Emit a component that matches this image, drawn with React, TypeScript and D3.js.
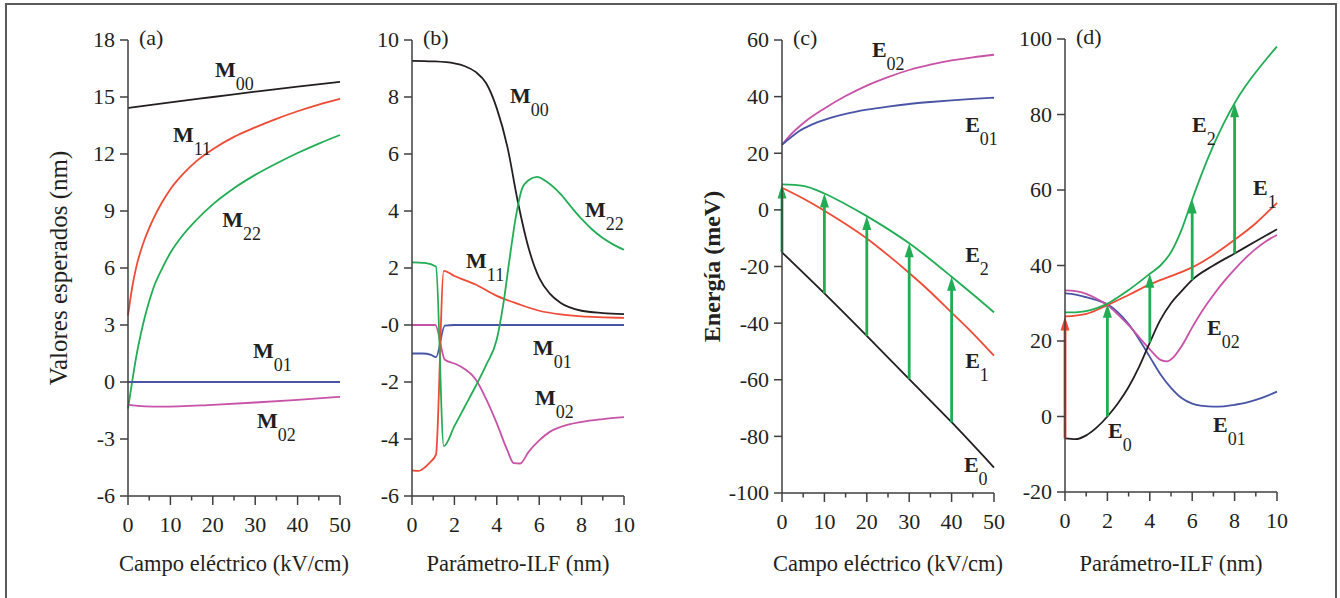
import React from 'react'
import * as d3 from 'd3'

// ---- data ----
// panel (a): x = campo eléctrico (kV/cm)
const aM00 = [[0, 14.42], [10, 14.72], [20, 15.0], [30, 15.28], [40, 15.55], [50, 15.8]]
const aM11 = [[0, 3.5], [1, 5.0], [2, 6.1], [3, 6.9], [4, 7.55], [5, 8.1], [6, 8.6], [8, 9.45], [10, 10.15], [13, 10.95], [16, 11.6], [20, 12.25], [25, 12.9], [30, 13.4], [35, 13.85], [40, 14.25], [45, 14.6], [50, 14.9]]
const aM22 = [[0, -1.4], [1, 0.05], [2, 1.4], [3, 2.5], [4, 3.45], [5, 4.25], [6, 4.95], [8, 5.95], [10, 6.8], [13, 7.75], [16, 8.5], [20, 9.35], [25, 10.2], [30, 10.9], [35, 11.5], [40, 12.05], [45, 12.55], [50, 13.0]]
const aM01 = [[0, 0], [50, 0]]
const aM02 = [[0, -1.2], [4, -1.28], [8, -1.3], [20, -1.2], [30, -1.08], [40, -0.94], [50, -0.78]]

// panel (b): x = parámetro ILF (nm)
const bM00 = [[0, 9.27], [1, 9.25], [2, 9.18], [2.5, 9.08], [3, 8.88], [3.5, 8.48], [4, 7.6], [4.5, 6.25], [5, 4.3], [5.5, 2.7], [6, 1.65], [6.5, 1.1], [7, 0.78], [8, 0.5], [9, 0.42], [10, 0.38]]
const bM11 = [[0, -5.1], [0.3, -5.12], [0.6, -5.0], [0.85, -4.82], [1.13, -4.55], [1.5, 1.9], [2, 1.72], [3, 1.42], [4, 1.02], [5, 0.74], [6, 0.5], [7, 0.37], [8, 0.3], [9, 0.27], [10, 0.25]]
const bM22 = [[0, 2.2], [0.6, 2.18], [1.13, 2.05], [1.5, -4.25], [2, -3.55], [2.5, -2.85], [3, -2.15], [3.5, -1.4], [4, -0.5], [4.3, 0.7], [4.6, 2.3], [4.9, 3.8], [5.2, 4.8], [5.5, 5.08], [5.9, 5.2], [6.3, 5.05], [7, 4.6], [7.5, 4.15], [8, 3.72], [8.5, 3.35], [9, 3.05], [9.5, 2.82], [10, 2.64]]
const bM01 = [[0, -1.0], [0.5, -1.0], [0.9, -1.05], [1.13, -1.13], [1.55, -0.02], [2, 0], [10, 0]]
const bM02 = [[0, 0], [1.1, 0], [1.55, -1.22], [2, -1.35], [2.5, -1.55], [3, -1.9], [3.5, -2.6], [4, -3.45], [4.5, -4.4], [4.8, -4.85], [5.1, -4.86], [5.5, -4.45], [6, -4.05], [6.5, -3.75], [7, -3.58], [8, -3.4], [9, -3.3], [10, -3.23]]

// panel (c): energías vs campo eléctrico
const cE02 = [[0, 23], [2, 26.5], [5, 30.6], [10, 35.8], [15, 40.2], [20, 43.9], [25, 46.9], [30, 49.4], [35, 51.3], [40, 52.8], [45, 53.9], [50, 54.8]]
const cE01 = [[0, 23], [2, 25.5], [4, 27.8], [7, 30.1], [10, 31.8], [15, 33.9], [20, 35.4], [25, 36.5], [30, 37.4], [35, 38.1], [40, 38.7], [45, 39.2], [50, 39.6]]
const cE2 = [[0, 9], [5, 8.5], [10, 5.8], [15, 2.0], [20, -2.2], [25, -6.8], [30, -11.8], [35, -17.5], [40, -23.6], [45, -29.8], [50, -36.2]]
const cE1 = [[0, 7.8], [5, 4.0], [10, -0.3], [15, -5.0], [20, -10.1], [25, -16.0], [30, -22.3], [35, -29.0], [40, -36.3], [45, -43.6], [50, -51.5]]
const cE0 = [[0, -15], [10, -29.5], [20, -44.5], [30, -59.8], [40, -75], [50, -91]]
const cArrows = [[0, -15, 9], [10, -29.5, 5.8], [20, -44.5, -2.2], [30, -59.8, -11.8], [40, -75, -23.6]]

// panel (d): energías vs parámetro ILF
const dE2 = [[0, 27.6], [0.5, 27.6], [1, 27.9], [1.5, 28.7], [2, 29.9], [2.5, 31.6], [3, 33.5], [3.5, 35.6], [4, 37.8], [4.5, 40.0], [5, 43.5], [5.5, 49.5], [6, 57.5], [6.5, 65.0], [7, 71.8], [7.5, 77.8], [8, 83], [8.5, 87.4], [9, 91.2], [9.5, 94.7], [10, 98]]
const dE1 = [[0, 26.5], [1, 27.2], [2, 29.5], [3, 32.2], [4, 35.0], [5, 37.2], [6, 39.5], [7, 42.8], [8, 46.8], [9, 51.2], [10, 56.6]]
const dE0 = [[0, -5.8], [0.5, -6.0], [1, -5.0], [1.5, -2.9], [2, 0], [2.5, 3.5], [3, 7.8], [3.5, 13.2], [4, 19.6], [4.5, 25.6], [5, 30.0], [5.5, 33.2], [6, 36.2], [7, 40.0], [8, 43.2], [9, 46.4], [10, 49.6]]
const dE02 = [[0, 33.4], [0.5, 33.2], [1, 32.5], [1.5, 31.2], [2, 29.5], [2.5, 27], [3, 24.2], [3.5, 21], [4, 17.8], [4.5, 15.0], [4.8, 14.6], [5.1, 15.6], [5.5, 18.6], [6, 23.6], [6.5, 28.2], [7, 32.2], [7.5, 35.8], [8, 39.0], [8.5, 41.9], [9, 44.4], [9.5, 46.5], [10, 48.1]]
const dE01 = [[0, 32.6], [0.5, 32.3], [1, 31.6], [1.5, 30.8], [2, 29.7], [2.5, 27.6], [3, 24.5], [3.5, 20.4], [4, 15.8], [4.5, 11.2], [5, 7.6], [5.5, 4.9], [6, 3.4], [6.5, 2.8], [7, 2.6], [7.5, 2.7], [8, 3.1], [8.5, 3.6], [9, 4.4], [9.5, 5.4], [10, 6.6]]
const dRedArrows = [[0, -5.8, 26.5]]
const dArrows = [[2, 0, 29.9], [4, 19.6, 37.8], [6, 36.2, 57.5], [8, 43.2, 83]]

// tick labels
const aYTicks = [18, 15, 12, 9, 6, 3, 0, -3, -6]
const bYTicks = [10, 8, 6, 4, 2, 0, -2, -4, -6]
const bYLabels = ['10', '8', '6', '4', '2', '-0', '-2', '-4', '-6']
const cYTicks = [60, 40, 20, 0, -20, -40, -60, -80, -100]
const dYTicks = [100, 80, 60, 40, 20, 0, -20]
const fieldTicks = [0, 10, 20, 30, 40, 50]
const ilfTicks = [0, 2, 4, 6, 8, 10]

const BLACK = '#231f20', RED = '#ef4a35', GREEN = '#22ad55', BLUE = '#4a54a6', MAGENTA = '#c852a8'
const AXIS = '#3f3f3f'
const FONT = '"Liberation Serif", "Times New Roman", serif'

type Curve = { d: number[][]; color: string }
type Label = { base: string; sub: string; x: number; y: number }
type PanelProps = {
  left: number; bottom: number; top: number
  xDomain: [number, number]; yDomain: [number, number]
  xTicks: number[]; xMinor: number[]
  yTicks: number[]; yLabels?: string[]
  tag: string; curves: Curve[]; labels: Label[]
  arrows?: { d: number[][]; color: string }[]
  xTitle: string; yTitle?: string; yTitleX?: number; yTitleBold?: boolean; yTitleSize?: number
}

const Panel = (p: PanelProps) => {
  const w = 212
  const x = d3.scaleLinear().domain(p.xDomain).range([p.left, p.left + w])
  const y = d3.scaleLinear().domain(p.yDomain).range([p.bottom, p.top])
  const line = d3.line<number[]>().x(d => x(d[0])).y(d => y(d[1])).curve(d3.curveMonotoneX)
  const mid = (p.top + p.bottom) / 2
  return (
    <g fontFamily={FONT} fill="#231f20">
      {p.curves.map((c, i) => (
        <path key={i} d={line(c.d) || ''} fill="none" stroke={c.color} strokeWidth={1.8} />
      ))}
      {p.arrows && p.arrows.map((a, j) => a.d.map((r, i) => {
        const ax = x(r[0]), y0 = y(r[1]), y1 = y(r[2])
        return (
          <g key={j + '-' + i}>
            <line x1={ax} x2={ax} y1={y0} y2={y1 + 10} stroke={a.color} strokeWidth={2.8} />
            <path d={`M${ax - 4.5},${y1 + 14} L${ax},${y1} L${ax + 4.5},${y1 + 14} Z`} fill={a.color} />
          </g>
        )
      }))}
      {/* axes */}
      <line x1={p.left} x2={p.left} y1={p.top} y2={p.bottom} stroke={AXIS} strokeWidth={1.5} />
      <line x1={p.left} x2={p.left + w} y1={p.bottom} y2={p.bottom} stroke={AXIS} strokeWidth={1.5} />
      {p.yTicks.map((t, i) => (
        <g key={'y' + i}>
          <line x1={p.left - 8} x2={p.left} y1={y(t)} y2={y(t)} stroke={AXIS} strokeWidth={1.5} />
          <text x={p.left - 13} y={y(t)} dy="0.34em" textAnchor="end" fontSize={22}>
            {p.yLabels ? p.yLabels[i] : String(t)}
          </text>
        </g>
      ))}
      {p.xTicks.map((t, i) => (
        <g key={'x' + i}>
          <line x1={x(t)} x2={x(t)} y1={p.bottom} y2={p.bottom + 9} stroke={AXIS} strokeWidth={1.5} />
          <text x={x(t)} y={p.bottom + 36} textAnchor="middle" fontSize={22}>{t}</text>
        </g>
      ))}
      {p.xMinor.map((t, i) => (
        <line key={'m' + i} x1={x(t)} x2={x(t)} y1={p.bottom} y2={p.bottom + 4.5} stroke={AXIS} strokeWidth={1.5} />
      ))}
      <text x={p.left + 11} y={p.top + 5} fontSize={22}>{p.tag}</text>
      {p.labels.map((l, i) => (
        <text key={'l' + i} x={x(l.x)} y={y(l.y)} fontSize={22}>
          <tspan fontWeight="bold">{l.base}</tspan>
          <tspan dy={13} fontSize={18}>{l.sub}</tspan>
        </text>
      ))}
      <text x={p.left + w / 2} y={571} textAnchor="middle" fontSize={22.5}>{p.xTitle}</text>
      {p.yTitle && (
        <text transform={`translate(${p.yTitleX},${mid}) rotate(-90)`} dy="0.34em" textAnchor="middle"
          fontSize={p.yTitleSize || 22} fontWeight={p.yTitleBold ? 'bold' : 'normal'}>{p.yTitle}</text>
      )}
    </g>
  )
}

const App = () => {
  const minorField = [5, 15, 25, 35, 45]
  const minorIlf = [1, 3, 5, 7, 9]
  return (
    <svg width={1340} height={598} style={{ position: 'absolute', left: 0, top: 0, background: '#fff' }}>
      <rect x={6} y={4} width={1330} height={620} fill="#fff" stroke="#5a5a5a" strokeWidth={2} />
      <Panel left={128} top={40} bottom={496} xDomain={[0, 50]} yDomain={[-6, 18]}
        xTicks={fieldTicks} xMinor={minorField} yTicks={aYTicks} tag="(a)"
        curves={[{ d: aM00, color: BLACK }, { d: aM11, color: RED }, { d: aM22, color: GREEN }, { d: aM01, color: BLUE }, { d: aM02, color: MAGENTA }]}
        labels={[
          { base: 'M', sub: '00', x: 20.5, y: 16.05 },
          { base: 'M', sub: '11', x: 10.6, y: 12.63 },
          { base: 'M', sub: '22', x: 22.2, y: 8.16 },
          { base: 'M', sub: '01', x: 29.5, y: 1.26 },
          { base: 'M', sub: '02', x: 30.4, y: -2.42 },
        ]}
        xTitle="Campo eléctrico (kV/cm)" yTitle="Valores esperados (nm)" yTitleX={58} yTitleSize={25} />
      <Panel left={412} top={40} bottom={496} xDomain={[0, 10]} yDomain={[-6, 10]}
        xTicks={ilfTicks} xMinor={minorIlf} yTicks={bYTicks} yLabels={bYLabels} tag="(b)"
        curves={[{ d: bM00, color: BLACK }, { d: bM01, color: BLUE }, { d: bM02, color: MAGENTA }, { d: bM11, color: RED }, { d: bM22, color: GREEN }]}
        labels={[
          { base: 'M', sub: '00', x: 4.62, y: 7.79 },
          { base: 'M', sub: '22', x: 8.16, y: 3.79 },
          { base: 'M', sub: '11', x: 2.55, y: 2.0 },
          { base: 'M', sub: '01', x: 5.71, y: -1.05 },
          { base: 'M', sub: '02', x: 5.8, y: -2.81 },
        ]}
        xTitle="Parámetro-ILF (nm)" />
      <Panel left={782} top={40} bottom={493} xDomain={[0, 50]} yDomain={[-100, 60]}
        xTicks={fieldTicks} xMinor={minorField} yTicks={cYTicks} tag="(c)"
        curves={[{ d: cE02, color: MAGENTA }, { d: cE01, color: BLUE }, { d: cE0, color: BLACK }, { d: cE1, color: RED }, { d: cE2, color: GREEN }]}
        arrows={[{ d: cArrows, color: GREEN }]}
        labels={[
          { base: 'E', sub: '02', x: 21.2, y: 54 },
          { base: 'E', sub: '01', x: 43.2, y: 27.5 },
          { base: 'E', sub: '2', x: 43.2, y: -18.4 },
          { base: 'E', sub: '1', x: 43.2, y: -55.9 },
          { base: 'E', sub: '0', x: 42.9, y: -92.6 },
        ]}
        xTitle="Campo eléctrico (kV/cm)" yTitle="Energía (meV)" yTitleX={712} yTitleBold yTitleSize={24} />
      <Panel left={1065} top={39} bottom={492} xDomain={[0, 10]} yDomain={[-20, 100]}
        xTicks={ilfTicks} xMinor={minorIlf} yTicks={dYTicks} tag="(d)"
        curves={[{ d: dE01, color: BLUE }, { d: dE02, color: MAGENTA }, { d: dE0, color: BLACK }, { d: dE1, color: RED }, { d: dE2, color: GREEN }]}
        arrows={[{ d: dRedArrows, color: RED }, { d: dArrows, color: GREEN }]}
        labels={[
          { base: 'E', sub: '2', x: 5.99, y: 75.4 },
          { base: 'E', sub: '1', x: 8.87, y: 58.7 },
          { base: 'E', sub: '02', x: 6.7, y: 21.6 },
          { base: 'E', sub: '01', x: 6.98, y: -4.1 },
          { base: 'E', sub: '0', x: 2.03, y: -5.7 },
        ]}
        xTitle="Parámetro-ILF (nm)" />
    </svg>
  )
}

export default App
